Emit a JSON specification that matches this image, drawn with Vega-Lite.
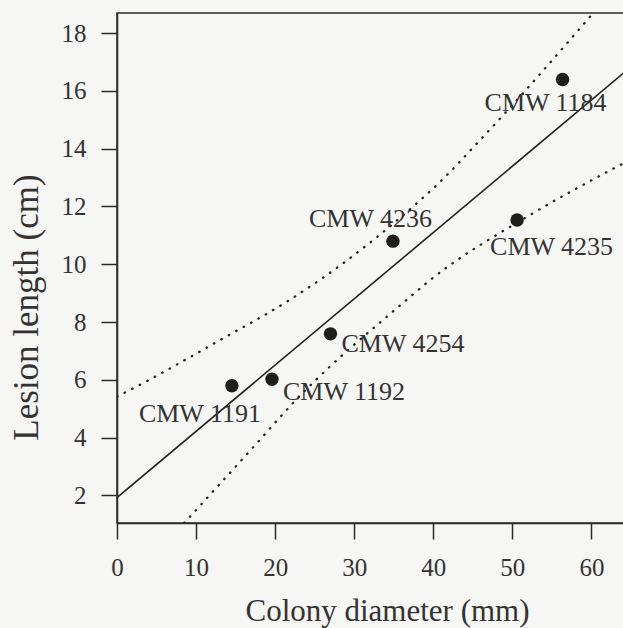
{
  "$schema": "https://vega.github.io/schema/vega-lite/v6.json",
  "autosize": {"type": "none"},
  "padding": {"left": 117, "top": 13, "right": 0, "bottom": 105},
  "width": 510,
  "height": 510,
  "background": "#f6f6f4",
  "config": {
    "view": {"stroke": "#2a2a2a", "strokeWidth": 1.5},
    "font": "Liberation Serif",
    "axis": {
      "grid": false,
      "labelFlush": false,
      "domainColor": "#2a2a2a",
      "domainWidth": 1.5,
      "tickColor": "#2a2a2a",
      "tickWidth": 1.5,
      "tickSize": 16,
      "labelFont": "Liberation Serif",
      "labelFontSize": 25,
      "labelColor": "#333333",
      "titleFont": "Liberation Serif",
      "titleFontWeight": "normal",
      "titleColor": "#333333"
    }
  },
  "datasets": {
    "points": [
      {"strain": "CMW 1191", "x": 14.53, "y": 5.79},
      {"strain": "CMW 1192", "x": 19.6, "y": 6.02},
      {"strain": "CMW 4254", "x": 27.0, "y": 7.59},
      {"strain": "CMW 4236", "x": 34.9, "y": 10.8},
      {"strain": "CMW 4235", "x": 50.6, "y": 11.53},
      {"strain": "CMW 1184", "x": 56.35, "y": 16.4}
    ],
    "fit": [
      {"x": 0, "y": 1.92},
      {"x": 64.5, "y": 16.72}
    ],
    "upper": [
      {"x": 0, "y": 5.42},
      {"x": 0.73, "y": 5.52},
      {"x": 13.0, "y": 7.37},
      {"x": 21.8, "y": 8.76},
      {"x": 26.5, "y": 9.62},
      {"x": 38.4, "y": 12.23},
      {"x": 40.2, "y": 12.68},
      {"x": 46.7, "y": 14.53},
      {"x": 60.2, "y": 18.69}
    ],
    "lower": [
      {"x": 8.5, "y": 1.04},
      {"x": 18.0, "y": 3.9},
      {"x": 21.8, "y": 5.06},
      {"x": 36.6, "y": 8.76},
      {"x": 39.6, "y": 9.45},
      {"x": 52.2, "y": 11.7},
      {"x": 63.6, "y": 13.43},
      {"x": 64.5, "y": 13.56}
    ]
  },
  "encoding": {
    "x": {
      "field": "x",
      "type": "quantitative",
      "scale": {"domain": [0, 64.5], "nice": false, "zero": false},
      "axis": {
        "values": [0, 10, 20, 30, 40, 50, 60],
        "title": "Colony diameter (mm)",
        "labelBaseline": "alphabetic",
        "labelPadding": 36,
        "titleFontSize": 31,
        "titleBaseline": "alphabetic",
        "titleY": 97,
        "titleX": 270
      }
    },
    "y": {
      "field": "y",
      "type": "quantitative",
      "scale": {"domain": [1.04, 18.7], "nice": false, "zero": false},
      "axis": {
        "values": [2, 4, 6, 8, 10, 12, 14, 16, 18],
        "title": "Lesion length (cm)",
        "labelPadding": 15,
        "titleFontSize": 35,
        "titleAngle": 270,
        "titleBaseline": "alphabetic",
        "titleX": -80,
        "titleY": 294
      }
    }
  },
  "layer": [
    {
      "data": {"name": "fit"},
      "mark": {"type": "line", "color": "#222222", "strokeWidth": 1.6, "clip": true}
    },
    {
      "data": {"name": "upper"},
      "mark": {"type": "line", "color": "#222222", "strokeWidth": 2.3, "strokeDash": [0.5, 8], "strokeCap": "round", "interpolate": "monotone", "clip": true}
    },
    {
      "data": {"name": "lower"},
      "mark": {"type": "line", "color": "#222222", "strokeWidth": 2.3, "strokeDash": [0.5, 8], "strokeCap": "round", "interpolate": "monotone", "clip": true}
    },
    {
      "data": {"name": "points"},
      "mark": {"type": "circle", "size": 180, "color": "#1e1e1e", "opacity": 1}
    },
    {
      "data": {"name": "points"},
      "transform": [{"filter": "datum.strain === 'CMW 1191'"}],
      "mark": {"type": "text", "align": "left", "baseline": "alphabetic", "dx": -93, "dy": 36, "fontSize": 26, "color": "#333333"},
      "encoding": {"text": {"field": "strain"}}
    },
    {
      "data": {"name": "points"},
      "transform": [{"filter": "datum.strain === 'CMW 1192'"}],
      "mark": {"type": "text", "align": "left", "baseline": "alphabetic", "dx": 11, "dy": 21, "fontSize": 26, "color": "#333333"},
      "encoding": {"text": {"field": "strain"}}
    },
    {
      "data": {"name": "points"},
      "transform": [{"filter": "datum.strain === 'CMW 4254'"}],
      "mark": {"type": "text", "align": "left", "baseline": "alphabetic", "dx": 11, "dy": 18, "fontSize": 26, "color": "#333333"},
      "encoding": {"text": {"field": "strain"}}
    },
    {
      "data": {"name": "points"},
      "transform": [{"filter": "datum.strain === 'CMW 4236'"}],
      "mark": {"type": "text", "align": "left", "baseline": "alphabetic", "dx": -84, "dy": -14, "fontSize": 26, "color": "#333333"},
      "encoding": {"text": {"field": "strain"}}
    },
    {
      "data": {"name": "points"},
      "transform": [{"filter": "datum.strain === 'CMW 4235'"}],
      "mark": {"type": "text", "align": "left", "baseline": "alphabetic", "dx": -27, "dy": 35, "fontSize": 26, "color": "#333333"},
      "encoding": {"text": {"field": "strain"}}
    },
    {
      "data": {"name": "points"},
      "transform": [{"filter": "datum.strain === 'CMW 1184'"}],
      "mark": {"type": "text", "align": "left", "baseline": "alphabetic", "dx": -78, "dy": 32, "fontSize": 26, "color": "#333333"},
      "encoding": {"text": {"field": "strain"}}
    }
  ]
}
